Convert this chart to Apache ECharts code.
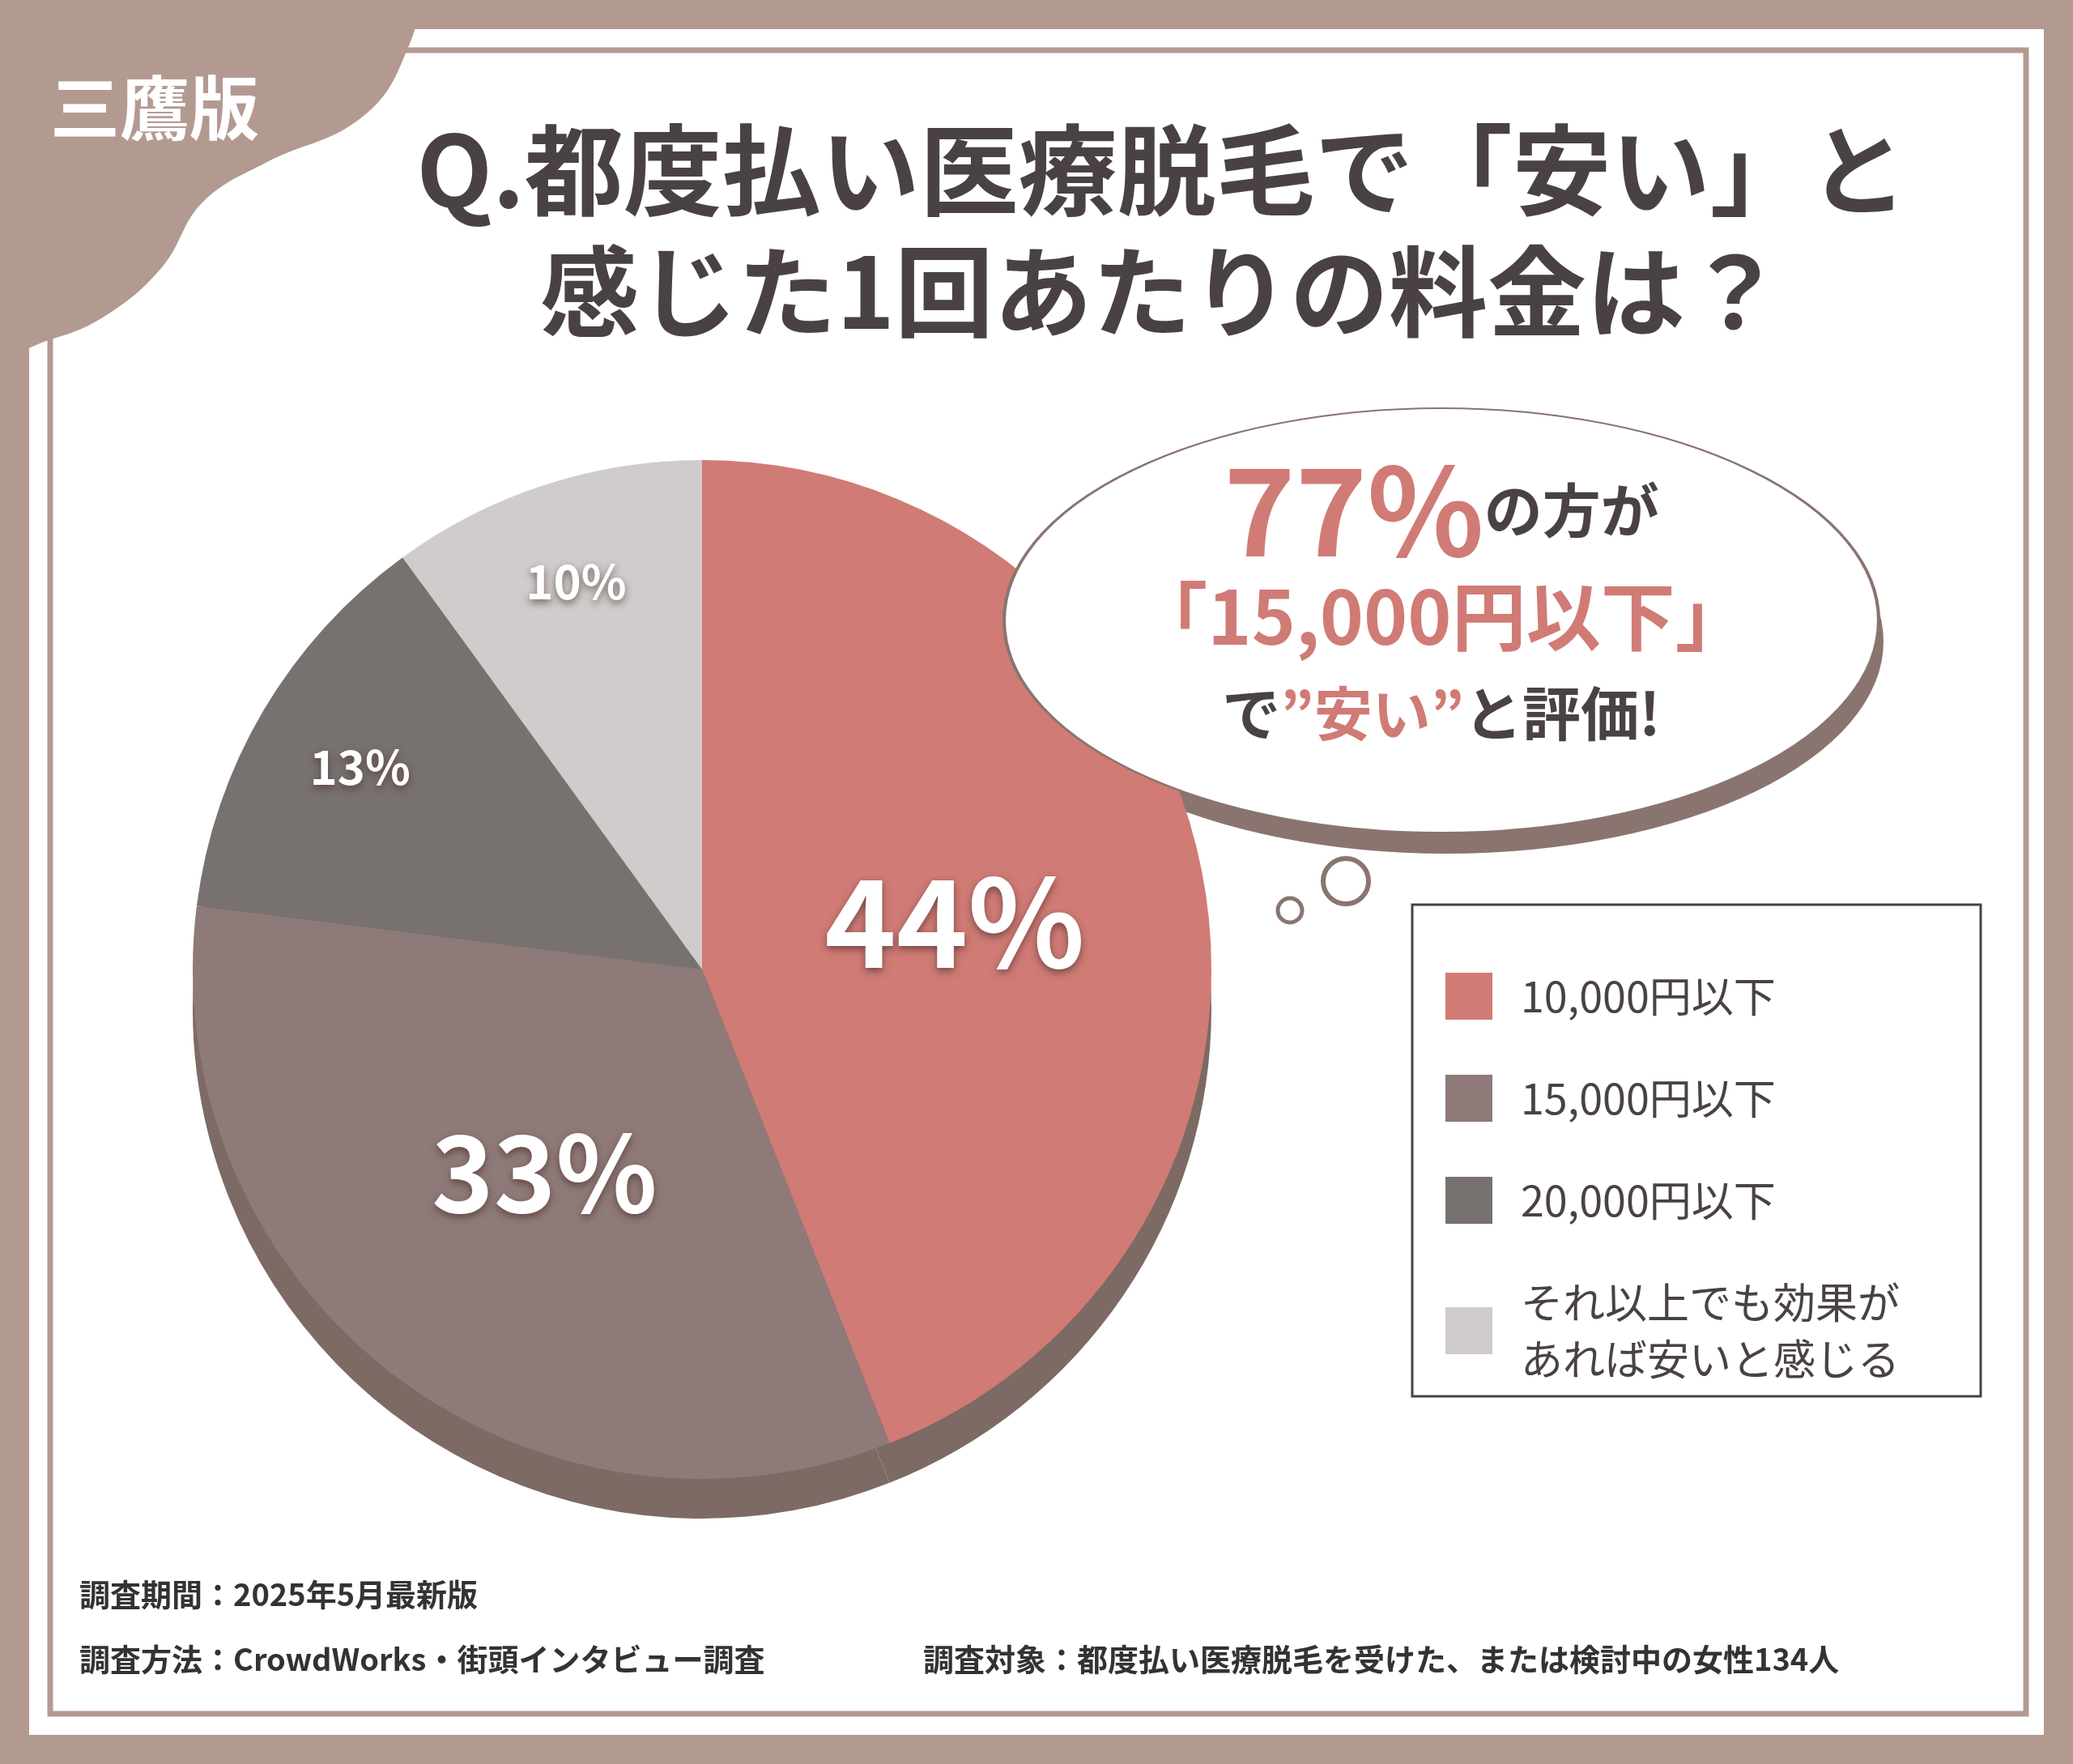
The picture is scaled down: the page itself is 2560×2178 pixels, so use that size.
<!DOCTYPE html>
<html><head><meta charset="utf-8">
<script src="https://cdn.jsdelivr.net/npm/echarts@6/dist/echarts.min.js"></script>
<style>html,body{margin:0;padding:0;background:#b39a91}#c{width:2560px;height:2178px}</style>
</head><body><div id="c"></div>
<script>
// data
var categories = ["10,000円以下", "15,000円以下", "20,000円以下", "それ以上でも効果が\nあれば安いと感じる"];
var shares = [44, 33, 13, 10];
var colors = ["#d07b75", "#8e7a78", "#77716f", "#cfcccb"];
var labelSizes = [150, 130, 58, 58];
var labelRadius = [0, 0, 0.78, 0.8]; // 0 = default inside position

var font = "'Noto Sans CJK JP', sans-serif";
var chart = echarts.init(document.getElementById("c"));
var cx = 867, cy = 1197, R = 629;

var pieData = [];
for (var i = 0; i < shares.length; i++) {
  pieData.push({
    value: shares[i], name: categories[i],
    itemStyle: { color: colors[i] },
    label: { fontSize: labelSizes[i] }
  });
}
var shadowData = [];
for (var i = 0; i < shares.length; i++) shadowData.push({ value: shares[i], name: "shadow" + i });

var total = 0;
for (var i = 0; i < shares.length; i++) total += shares[i];

var bubbleR = 262, bubbleSX = 540 / 262;

var option = {
  backgroundColor: "#b39a91",
  title: {
    text: "Q.都度払い医療脱毛で「安い」と\n感じた1回あたりの料金は？",
    left: 1430, top: 130, textAlign: "center",
    textStyle: { color: "#4a4242", fontSize: 122, fontWeight: "bold", fontFamily: font, lineHeight: 150 }
  },
  legend: {
    orient: "vertical", left: 1780, top: 1190,
    itemWidth: 58, itemHeight: 58, itemGap: 56,
    icon: "rect",
    textStyle: { color: "#4a4242", fontSize: 52, fontFamily: font, padding: [0, 0, 0, 30], lineHeight: 70 },
    data: categories
  },
  graphic: [
    { type: "rect", z: -10, shape: { x: 36, y: 36, width: 2488, height: 2106 }, style: { fill: "#ffffff" } },
    { type: "rect", z: -9, shape: { x: 62, y: 62, width: 2440, height: 2054 }, style: { fill: "none", stroke: "#b39a91", lineWidth: 7 } },
    { type: "polygon", z: 5, shape: { points: [[0,0],[503,0],[495,80],[440,150],[330,200],[250,250],[200,330],[130,390],[60,420],[0,430]], smooth: 0.4 }, style: { fill: "#b39a91" } },
    { type: "text", z: 6, left: 62, top: 90, style: { text: "三鷹版", fill: "#ffffff", fontSize: 86, fontWeight: "bold", fontFamily: font } },
    // speech bubble
    { type: "circle", z: 2, x: 1786, y: 792, scaleX: bubbleSX, shape: { cx: 0, cy: 0, r: bubbleR }, style: { fill: "#8a746f" } },
    { type: "circle", z: 3, x: 1780, y: 766, scaleX: bubbleSX, shape: { cx: 0, cy: 0, r: bubbleR }, style: { fill: "#ffffff", stroke: "#8a746f", lineWidth: 2 } },
    { type: "circle", z: 3, shape: { cx: 1662, cy: 1088, r: 28 }, style: { fill: "#ffffff", stroke: "#8a746f", lineWidth: 6 } },
    { type: "circle", z: 3, shape: { cx: 1593, cy: 1124, r: 15 }, style: { fill: "#ffffff", stroke: "#8a746f", lineWidth: 5 } },
    { type: "text", z: 4, x: 1780, y: 555, style: { text: "{a|77%}{b|の方が}", align: "center", fontFamily: font,
        rich: { a: { fontSize: 150, fill: "#d07b75", fontWeight: "bold", fontFamily: font }, b: { fontSize: 72, fill: "#4a4242", fontWeight: "bold", fontFamily: font } } } },
    { type: "text", z: 4, x: 1780, y: 715, style: { text: "「15,000円以下」", align: "center", fontSize: 92, fill: "#d07b75", fontWeight: "bold", fontFamily: font } },
    { type: "text", z: 4, x: 1780, y: 845, style: { text: "{b|で}{a|”安い”}{b|と評価!}", align: "center", fontFamily: font,
        rich: { a: { fontSize: 72, fill: "#d07b75", fontWeight: "bold", fontFamily: font }, b: { fontSize: 72, fill: "#4a4242", fontWeight: "bold", fontFamily: font } } } },
    // legend box
    { type: "rect", z: 1, shape: { x: 1744, y: 1117, width: 702, height: 607 }, style: { fill: "#ffffff", stroke: "#4a4242", lineWidth: 3 } },
    // footer
    { type: "text", left: 98, top: 1950, style: { text: "調査期間：2025年5月最新版", fontSize: 38, fill: "#333", fontWeight: "bold", fontFamily: font } },
    { type: "text", left: 98, top: 2030, style: { text: "調査方法：CrowdWorks・街頭インタビュー調査", fontSize: 38, fill: "#333", fontWeight: "bold", fontFamily: font } },
    { type: "text", left: 1140, top: 2030, style: { text: "調査対象：都度払い医療脱毛を受けた、または検討中の女性134人", fontSize: 38, fill: "#333", fontWeight: "bold", fontFamily: font } }
  ],
  series: [
    {
      type: "pie", z: 1, silent: true, center: [cx, cy + 49], radius: R, startAngle: 90,
      data: shadowData, label: { show: false },
      itemStyle: { color: "#7d6a64" }
    },
    {
      type: "pie", z: 2, center: [cx, cy], radius: R, startAngle: 90,
      data: pieData,
      label: {
        show: true, position: "inside", formatter: "{c}%", color: "#ffffff",
        fontFamily: font, fontWeight: "bold",
        textShadowColor: "rgba(80,50,50,0.7)", textShadowBlur: 10, textShadowOffsetY: 4
      },
      labelLine: { show: false },
      labelLayout: function (p) {
        var k = p.dataIndex;
        if (!labelRadius[k]) return {};
        var before = 0;
        for (var j = 0; j < k; j++) before += shares[j];
        var mid = (90 - (before + shares[k] / 2) / total * 360) * Math.PI / 180;
        return { x: cx + labelRadius[k] * R * Math.cos(mid), y: cy - labelRadius[k] * R * Math.sin(mid), align: "center", verticalAlign: "middle" };
      }
    }
  ]
};
chart.setOption(option);
</script></body></html>
